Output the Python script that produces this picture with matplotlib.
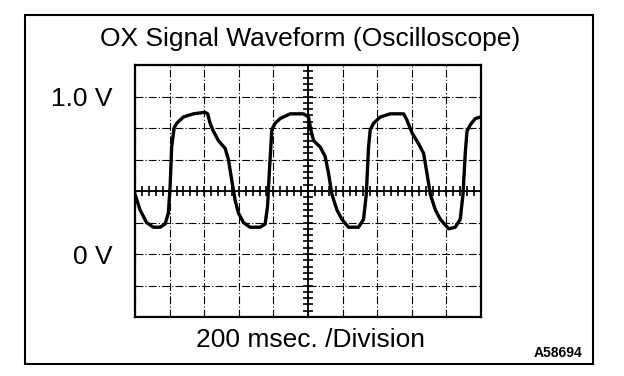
import numpy as np
import matplotlib.pyplot as plt
from matplotlib.patches import Rectangle
from matplotlib.ticker import MultipleLocator

plt.rcParams['font.family'] = ['Liberation Sans', 'DejaVu Sans']

# trace: time in ms, voltage in V
time_ms = [0, 29, 67, 106, 145, 174, 193, 203, 212, 226, 241, 280, 338, 405, 420,
           434, 453, 482, 521, 540, 559, 579, 598, 627, 665, 723, 752, 766, 777,
           791, 810, 839, 897, 974, 1003, 1016, 1032, 1070, 1099, 1119, 1138,
           1167, 1196, 1234, 1292, 1321, 1337, 1350, 1360, 1379, 1418, 1475,
           1553, 1572, 1601, 1639, 1668, 1688, 1707, 1736, 1765, 1813, 1851,
           1880, 1896, 1909, 1919, 1938, 1967, 1996]
volts = [0.38, 0.28, 0.20, 0.17, 0.17, 0.19, 0.26, 0.43, 0.68, 0.80, 0.83, 0.87,
         0.89, 0.90, 0.89, 0.83, 0.78, 0.72, 0.67, 0.60, 0.47, 0.34, 0.26, 0.20,
         0.17, 0.17, 0.19, 0.30, 0.53, 0.79, 0.83, 0.86, 0.89, 0.89, 0.87, 0.79,
         0.72, 0.68, 0.62, 0.51, 0.38, 0.28, 0.22, 0.17, 0.17, 0.22, 0.38, 0.68,
         0.79, 0.83, 0.87, 0.89, 0.89, 0.85, 0.77, 0.70, 0.64, 0.51, 0.38, 0.28,
         0.22, 0.16, 0.17, 0.22, 0.38, 0.64, 0.78, 0.82, 0.86, 0.87]

x_ticks = np.arange(0, 2001, 200)
y_ticks = np.round(np.arange(-0.4, 1.21, 0.2), 1)
y_labels = ['1.0 V' if v == 1.0 else ('0 V' if v == 0 else '') for v in y_ticks]

title = 'OX Signal Waveform (Oscilloscope)'
x_caption = '200 msec. /Division'
fig_id = 'A58694'

fig = plt.figure(figsize=(6.24, 3.76), dpi=100)
pos = [135 / 624, 1 - 317 / 376, 346 / 624, 252 / 376]
ax = fig.add_axes(pos)
ax.set_xlim(0, 2000)
ax.set_ylim(-0.4, 1.2)

# centre cross with small division ticks
ax2 = fig.add_axes(pos, sharex=ax, sharey=ax)
ax2.patch.set_visible(False)
ax2.spines['left'].set_position(('data', 1000))
ax2.spines['bottom'].set_position(('data', 0.4))
ax2.spines['top'].set_visible(False)
ax2.spines['right'].set_visible(False)
ax2.spines['left'].set_linewidth(1.3)
ax2.spines['bottom'].set_linewidth(1.3)
ax2.xaxis.set_minor_locator(MultipleLocator(40))
ax2.yaxis.set_minor_locator(MultipleLocator(0.04))
ax2.tick_params(which='both', direction='inout', length=7, width=1.2,
                labelbottom=False, labelleft=False)

ax.set_xticks(x_ticks)
ax.set_xticklabels([])
ax.set_yticks(y_ticks)
ax.set_yticklabels(y_labels, fontsize=19)
ax.tick_params(which='both', length=0, pad=16)
ax.grid(True, color='black', lw=0.8, linestyle=(0, (7, 2, 1, 2)))
for s in ax.spines.values():
    s.set_linewidth(1.6)

ax2.plot(time_ms, volts, color='black', lw=2.4, solid_joinstyle='round')

fig.text(0.497, 1 - 39 / 376, title, ha='center', va='center', fontsize=19)
fig.text(0.497, 1 - 340 / 376, x_caption, ha='center', va='center', fontsize=19)
fig.text(582 / 624, 1 - 353 / 376, fig_id, ha='right', va='center', fontsize=10,
         fontweight='bold')

fig.patches.append(Rectangle((25 / 624, 1 - 364 / 376), 568 / 624, 349 / 376,
                             transform=fig.transFigure, fill=False,
                             lw=1.5, color='black'))

fig.savefig('out.png', dpi=100)
